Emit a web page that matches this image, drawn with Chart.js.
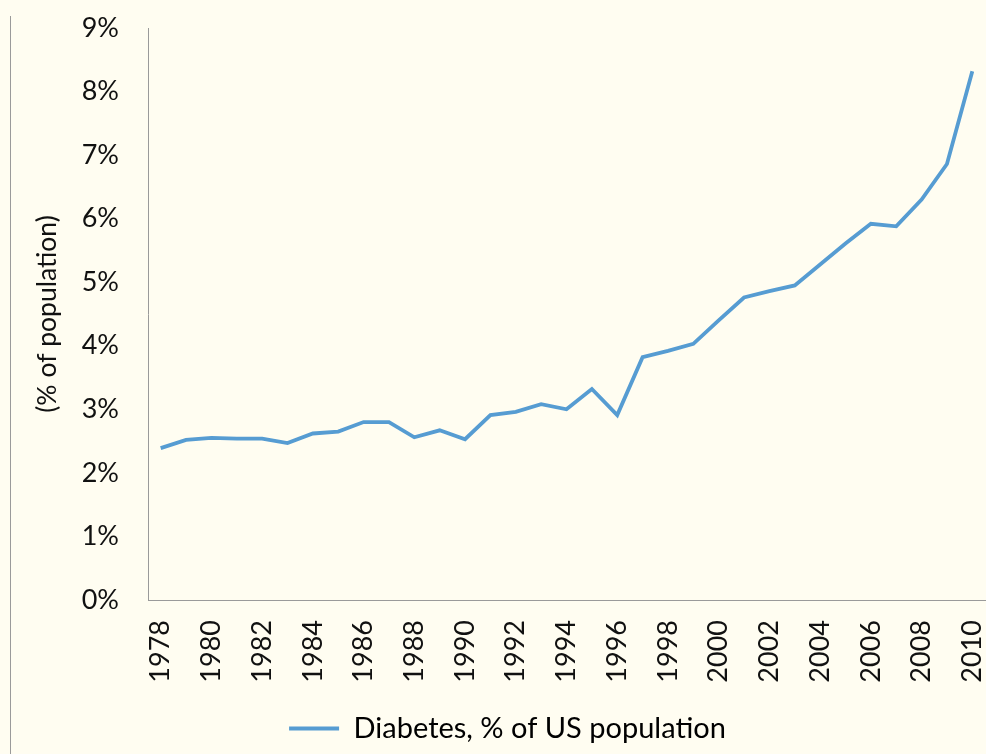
<!DOCTYPE html>
<html>
<head>
<meta charset="utf-8">
<script src="https://cdn.jsdelivr.net/npm/chart.js@4/dist/chart.umd.min.js"></script>
<style>
  html, body { margin: 0; padding: 0; background: #fffdf1; }
  #wrap { position: relative; width: 986px; height: 754px; }
  #edge { position: absolute; left: 10px; top: 16px; bottom: 0; border-left: 1px solid #9a9a9a; }
</style>
</head>
<body>
<div id="wrap">
  <div id="edge"></div>
  <canvas id="chart" width="986" height="754"></canvas>
</div>
<script>
const years = [];
for (let y = 1978; y <= 2010; y++) years.push(String(y));

// diabetes, % of US population
const diabetes = [2.39, 2.52, 2.55, 2.54, 2.54, 2.47, 2.62, 2.65, 2.80, 2.80,
                  2.56, 2.67, 2.53, 2.91, 2.96, 3.08, 3.00, 3.32, 2.91, 3.82,
                  3.92, 4.03, 4.40, 4.76, 4.86, 4.95, 5.28, 5.61, 5.92, 5.88,
                  6.30, 6.86, 8.32];

const yTicks = [0, 1, 2, 3, 4, 5, 6, 7, 8, 9];

const lineColor = '#569cd2';
const axisColor = '#9a9a9a';
const font = 'Lato';

new Chart(document.getElementById('chart'), {
  type: 'line',
  data: {
    labels: years,
    datasets: [{
      label: 'Diabetes, % of US population',
      data: diabetes,
      borderColor: lineColor,
      backgroundColor: lineColor,
      borderWidth: 3.8,
      pointRadius: 0,
      tension: 0,
      fill: false
    }]
  },
  options: {
    responsive: false,
    animation: false,
    layout: { padding: { left: 30, top: 28, right: 1, bottom: 1 } },
    plugins: {
      tooltip: { enabled: false },
      legend: {
        position: 'bottom',
        labels: {
          color: '#111',
          font: { family: font, size: 29 },
          boxWidth: 50,
          boxHeight: 4,
          padding: 9,
          generateLabels: chart => chart.data.datasets.map((ds, i) => ({
            text: ds.label, fillStyle: ds.borderColor, strokeStyle: ds.borderColor,
            lineWidth: 0, datasetIndex: i
          }))
        }
      }
    },
    scales: {
      x: {
        offset: true,
        grid: { display: false, drawTicks: false },
        border: { color: axisColor, width: 1 },
        afterFit: s => { s.height = 105; s.paddingLeft = 0; s.paddingRight = 0; },
        ticks: {
          color: '#111',
          font: { family: font, size: 27 },
          autoSkip: false,
          minRotation: 90,
          maxRotation: 90,
          padding: 20,
          callback: (v, i) => (i % 2 === 0 ? years[i] : '')
        }
      },
      y: {
        min: 0,
        max: 9,
        afterFit: s => { s.width = 118; s.paddingTop = 0; s.paddingBottom = 0; },
        afterBuildTicks: s => { s.ticks = yTicks.map(v => ({ value: v })); },
        grid: { display: false, drawTicks: false },
        border: { color: axisColor, width: 1 },
        title: {
          display: true,
          text: '(% of population)',
          color: '#111',
          font: { family: font, size: 26.5 },
          padding: { top: 2, bottom: 0 }
        },
        ticks: {
          color: '#111',
          font: { family: font, size: 27 },
          padding: 29,
          callback: v => v + '%'
        }
      }
    }
  }
});
</script>
</body>
</html>
